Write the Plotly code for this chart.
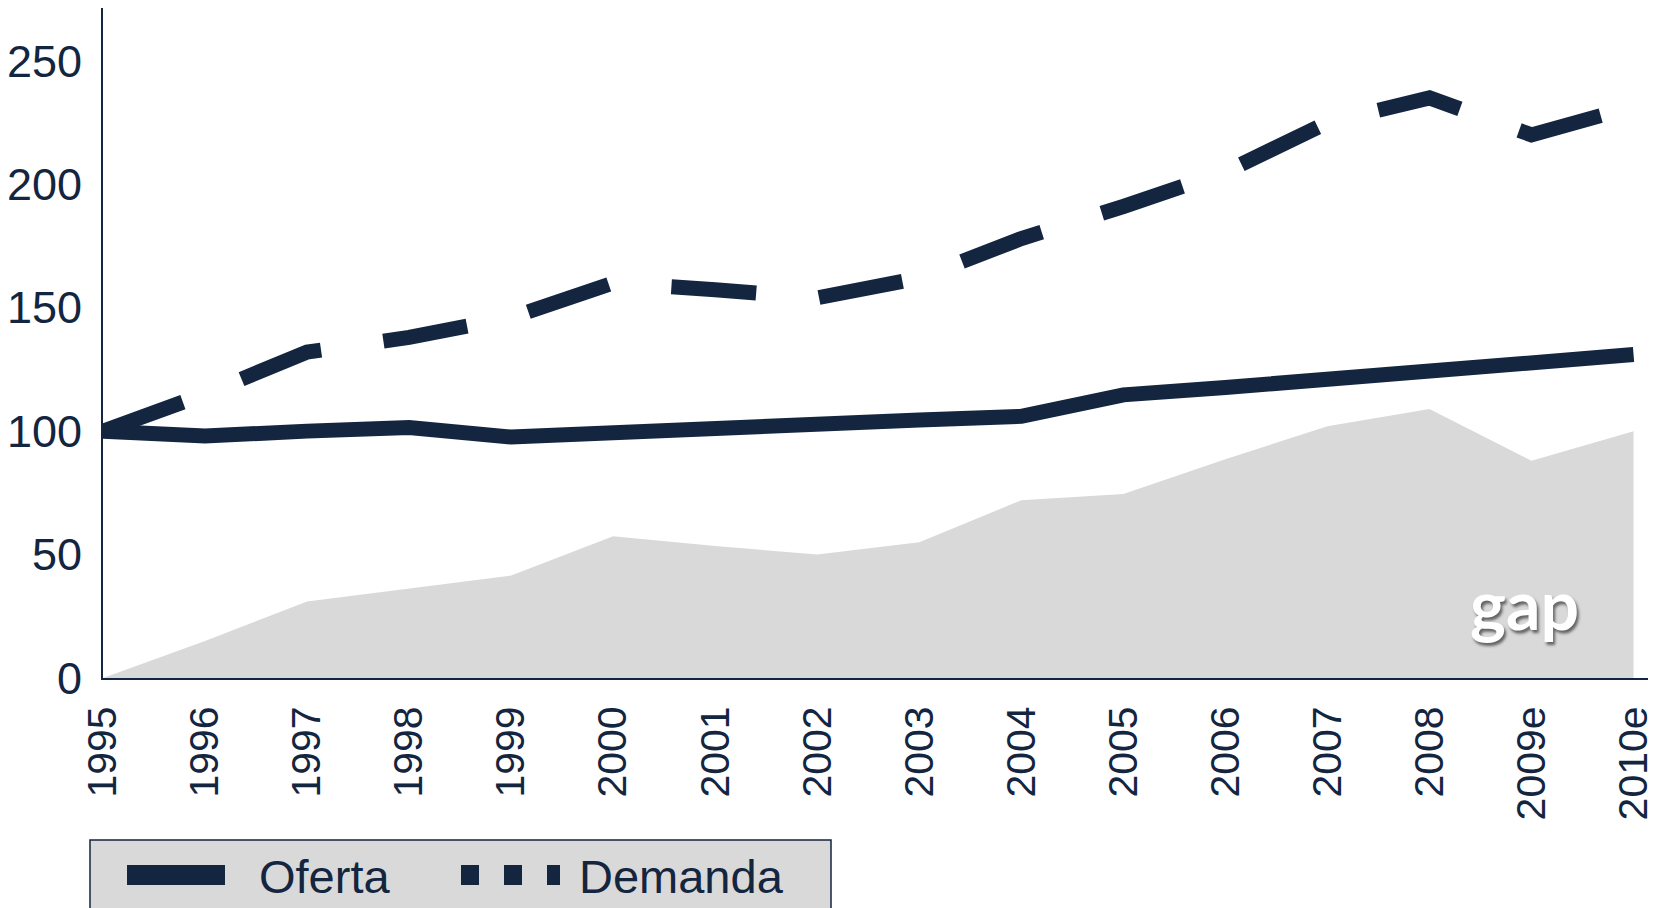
import plotly.graph_objects as go

years = ["1995", "1996", "1997", "1998", "1999", "2000", "2001", "2002",
         "2003", "2004", "2005", "2006", "2007", "2008", "2009e", "2010e"]
oferta = [100, 98, 100, 101.5, 97.6, 99.7, 101, 102.7, 104.5, 106, 114.7,
          117.7, 120.7, 124, 127.6, 131]
demanda = [100, 115, 132, 138, 146, 160, 157.3, 154, 162, 178, 191,
           205, 225, 235, 220, 231.5]
gap = [0, 15, 31, 36.4, 41.5, 57.4, 53.5, 50, 55, 72, 74.5, 88.6, 102,
       109, 88, 100]
legend_labels = ["Oferta", "Demanda"]

NAVY = "#13253f"
GRAY = "#d9d9d9"

# the page body has an 8px margin, so the figure is 8px smaller than the window
OFF = 8
W, H = 1656 - OFF, 908 - OFF
ML, MR, MT, MB = 95, 0, 0, 230
PW, PH = W - ML - MR, H - MT - MB


def px(xp):
    """page x pixel -> paper x"""
    return (xp - OFF - ML) / PW


def py(yp):
    """page y pixel -> paper y"""
    return (H - MB - (yp - OFF)) / PH


fig = go.Figure()
fig.add_trace(go.Scatter(x=years, y=gap, mode="lines", fill="tozeroy",
                         fillcolor=GRAY, line=dict(width=0, color=GRAY),
                         showlegend=False, hoverinfo="skip", name="gap"))
fig.add_trace(go.Scatter(x=years, y=oferta, mode="lines", name=legend_labels[0],
                         line=dict(color=NAVY, width=15), showlegend=False))
fig.add_trace(go.Scatter(x=years, y=demanda, mode="lines", name=legend_labels[1],
                         line=dict(color=NAVY, width=15, dash="85px,63px"),
                         showlegend=False))

fig.add_annotation(x=13.93, y=30, xref="x", yref="y", text="<b>gap</b>",
                   showarrow=False,
                   font=dict(family="Lato", size=68, color="white",
                             shadow="2px 3px 3px rgba(0,0,0,0.55)"))

# legend box (drawn by hand to match the reference's look)
shapes = [
    dict(type="rect", xref="paper", yref="paper", x0=px(90), x1=px(831),
         y0=py(930), y1=py(840), fillcolor=GRAY,
         line=dict(color=NAVY, width=1.5), layer="above"),
    dict(type="line", xref="paper", yref="paper", x0=px(127), x1=px(225),
         y0=py(875), y1=py(875), line=dict(color=NAVY, width=20)),
    dict(type="line", xref="paper", yref="paper", x0=px(461), x1=px(560),
         y0=py(875), y1=py(875),
         line=dict(color=NAVY, width=20, dash="18px,25px")),
]
fig.add_annotation(x=px(257), y=py(876), xref="paper", yref="paper",
                   xanchor="left", yanchor="middle", showarrow=False,
                   text=legend_labels[0],
                   font=dict(family="Liberation Sans", size=47, color=NAVY))
fig.add_annotation(x=px(577), y=py(876), xref="paper", yref="paper",
                   xanchor="left", yanchor="middle", showarrow=False,
                   text=legend_labels[1],
                   font=dict(family="Liberation Sans", size=47, color=NAVY))

fig.update_layout(
    width=W, height=H,
    margin=dict(l=ML, r=MR, t=MT, b=MB),
    paper_bgcolor="white", plot_bgcolor="white",
    font=dict(family="Liberation Sans", color=NAVY),
    showlegend=False,
    shapes=shapes,
    xaxis=dict(type="category", range=[0, 15.22], showgrid=False,
               zeroline=False, showline=True, linecolor=NAVY, linewidth=2,
               ticks="", tickangle=-90, ticklabelstandoff=10,
               automargin=False,
               tickfont=dict(size=41, color=NAVY)),
    yaxis=dict(range=[0, 271.4], showgrid=False, zeroline=False,
               showline=True, linecolor=NAVY, linewidth=2, ticks="",
               tickvals=[0, 50, 100, 150, 200, 250], ticklabelstandoff=10,
               automargin=False,
               tickfont=dict(size=45, color=NAVY)),
)

fig.write_html("out.html")
